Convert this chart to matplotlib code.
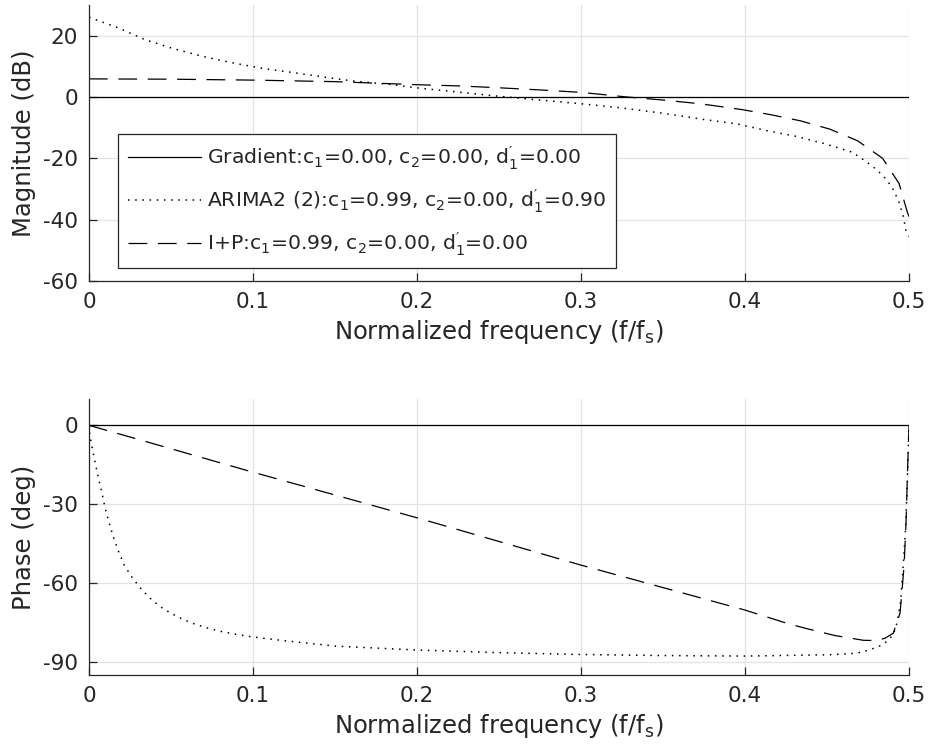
import matplotlib
matplotlib.use('Agg')
import matplotlib.pyplot as plt

plt.rcParams['font.family'] = ['DejaVu Sans']
plt.rcParams['mathtext.default'] = 'regular'
plt.rcParams['mathtext.fontset'] = 'dejavusans'
plt.rcParams['axes.unicode_minus'] = False

# ---------------- data ----------------
# Gradient (solid)
grad_f = [0.0, 0.5]
grad_mag = [0.0, 0.0]
grad_phase = [0.0, 0.0]

# ARIMA2 (2) (dotted) magnitude
arima_mag_f = [0.0, 0.0175, 0.0341, 0.0518, 0.0697, 0.0878, 0.1059, 0.124, 0.1419,
               0.1612, 0.1835, 0.2028, 0.2252, 0.2486, 0.275, 0.3, 0.325, 0.35,
               0.3756, 0.3945, 0.4126, 0.4309, 0.4484, 0.4654, 0.4732, 0.4803,
               0.4864, 0.4904, 0.4937, 0.4965, 0.4982, 0.5]
arima_mag = [26.0, 22.6, 18.7, 15.7, 13.2, 11.1, 9.3, 8.0, 6.6,
             5.2, 4.1, 2.8, 1.6, 0.3, -1.0, -2.2, -3.6, -5.3,
             -7.4, -8.7, -10.9, -12.8, -15.2, -18.0, -20.8, -23.7,
             -27.0, -30.2, -34.0, -38.9, -43.8, -45.5]

# ARIMA2 (2) (dotted) phase
arima_ph_f = [0.0, 0.0004, 0.002, 0.0039, 0.0057, 0.0079, 0.0098, 0.0122, 0.0148,
              0.0179, 0.0215, 0.0264, 0.0321, 0.0386, 0.0457, 0.0541, 0.0626,
              0.0713, 0.0803, 0.0894, 0.0984, 0.1075, 0.1169, 0.15, 0.2, 0.25,
              0.3, 0.35, 0.4, 0.4213, 0.4518, 0.4681, 0.4762, 0.4823, 0.4864,
              0.4904, 0.4929, 0.4949, 0.4965, 0.498, 0.4992, 0.5]
arima_phase = [0.0, -3.2, -8.9, -14.6, -20.0, -25.7, -31.4, -37.0, -42.4,
               -47.8, -53.2, -58.0, -62.5, -66.6, -70.0, -72.9, -75.2,
               -77.0, -78.4, -79.5, -80.4, -81.1, -81.8, -84.0, -85.5, -86.5,
               -87.2, -87.6, -87.8, -87.6, -87.3, -86.7, -85.4, -83.9, -82.3,
               -79.7, -74.7, -67.0, -53.0, -38.0, -16.5, 0.0]

# I+P (dashed) magnitude
ip_mag_f = [0.0, 0.05, 0.1, 0.15, 0.2, 0.226, 0.25, 0.275, 0.3, 0.328, 0.35,
            0.3726, 0.398, 0.4159, 0.434, 0.4518, 0.4687, 0.4839, 0.4939,
            0.499, 0.5]
ip_mag = [5.9, 5.8, 5.5, 5.0, 4.0, 3.6, 3.0, 2.3, 1.5, 0.0, -1.0,
          -2.2, -4.1, -5.8, -7.8, -10.5, -14.3, -20.0, -28.2,
          -37.6, -39.0]

# I+P (dashed) phase
ip_ph_f = [0.0, 0.0992, 0.2, 0.3, 0.4, 0.4254, 0.4366, 0.4549, 0.4722, 0.4803,
           0.4854, 0.4904, 0.4945, 0.4955, 0.497, 0.4982, 0.4992, 0.5]
ip_phase = [0.0, -17.7, -35.2, -53.2, -70.3, -75.3, -77.2, -80.0, -81.8, -81.9,
            -81.0, -79.1, -71.5, -64.6, -53.2, -36.7, -15.2, 0.0]

labels = [r"Gradient:c$_1$=0.00, c$_2$=0.00, d$^{\prime}_1$=0.00",
          r"ARIMA2 (2):c$_1$=0.99, c$_2$=0.00, d$^{\prime}_1$=0.90",
          r"I+P:c$_1$=0.99, c$_2$=0.00, d$^{\prime}_1$=0.00"]

mag_ticks = [-60, -40, -20, 0, 20]
phase_ticks = [-90, -60, -30, 0]
f_ticks = [0, 0.1, 0.2, 0.3, 0.4, 0.5]
f_ticklabels = ['0', '0.1', '0.2', '0.3', '0.4', '0.5']

# ---------------- figure ----------------
fig = plt.figure(figsize=(9.29, 7.52), dpi=100)
ax1 = fig.add_axes([0.0958, 0.6263, 0.8827, 0.3671])
ax2 = fig.add_axes([0.0958, 0.1024, 0.8827, 0.3670])

axcol = '#262626'
lw = 0.9
dot = dict(linestyle=(0, (1.0, 3.7)), linewidth=1.1)
dash = dict(linestyle=(0, (15, 8.5)), linewidth=lw)


def style(ax):
    for s in ['top', 'right']:
        ax.spines[s].set_visible(False)
    for s in ['left', 'bottom']:
        ax.spines[s].set_color(axcol)
        ax.spines[s].set_linewidth(0.9)
    ax.tick_params(direction='in', length=6, width=0.9, colors=axcol,
                   labelsize=15.5, pad=8)
    ax.grid(True, color='#e3e3e3', linewidth=0.9)
    ax.set_axisbelow(True)
    ax.set_xlim(0, 0.5)
    ax.set_xticks(f_ticks)
    ax.set_xticklabels(f_ticklabels)
    ax.set_xlabel(r'Normalized frequency (f/f$_s$)', fontsize=17.5, color=axcol,
                  labelpad=4)


l1, = ax1.plot(grad_f, grad_mag, color='black', linewidth=lw, linestyle='-')
l2, = ax1.plot(arima_mag_f, arima_mag, color='black', **dot)
l3, = ax1.plot(ip_mag_f, ip_mag, color='black', **dash)
style(ax1)
ax1.set_ylim(-60, 30)
ax1.set_yticks(mag_ticks)
ax1.set_ylabel('Magnitude (dB)', fontsize=17.5, color=axcol, labelpad=5)

leg = ax1.legend([l1, l2, l3], labels, loc='upper left',
                 bbox_to_anchor=(0.035, 0.5326), fontsize=14.7, frameon=True,
                 fancybox=False, edgecolor=axcol, framealpha=1,
                 handlelength=3.6, handletextpad=0.25, labelspacing=0.78,
                 borderpad=0.5, borderaxespad=0)
leg.get_frame().set_linewidth(0.9)
for t in leg.get_texts():
    t.set_color(axcol)

ax2.plot(grad_f, grad_phase, color='black', linewidth=lw, linestyle='-')
ax2.plot(arima_ph_f, arima_phase, color='black', **dot)
ax2.plot(ip_ph_f, ip_phase, color='black', **dash)
style(ax2)
ax2.set_ylim(-95, 10)
ax2.set_yticks(phase_ticks)
ax2.set_ylabel('Phase (deg)', fontsize=17.5, color=axcol, labelpad=5)

fig.savefig('out.png', dpi=100)
